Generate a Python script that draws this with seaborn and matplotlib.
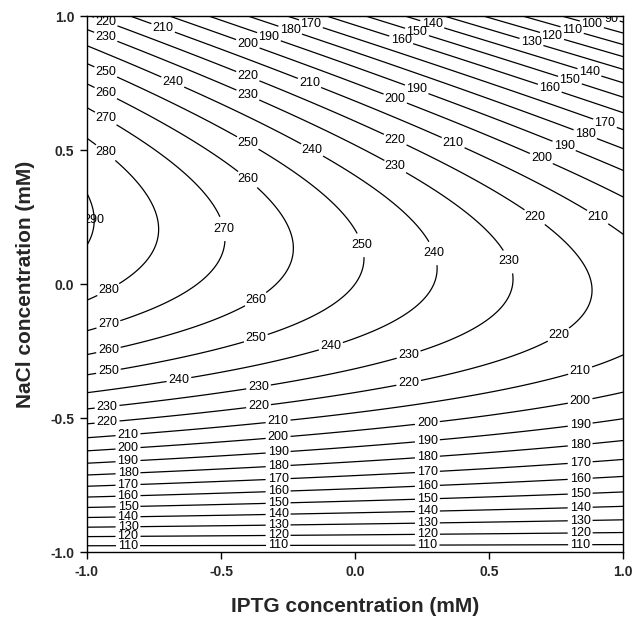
import numpy as np
import matplotlib
matplotlib.use("Agg")
import matplotlib.pyplot as plt
import seaborn as sns

# -------- response surface (coded units), coefficients --------
b0 = 250.0        # intercept
b_iptg = -34.0    # linear IPTG
b_nacl = 24.7     # linear NaCl
b_iptg2 = 0.0     # quadratic IPTG
b_nacl2 = -122.0  # quadratic NaCl
b_cross = -34.3   # IPTG x NaCl

levels = list(range(80, 300, 10))
ticks = [-1.0, -0.5, 0.0, 0.5, 1.0]
tick_labels = ["-1.0", "-0.5", "0.0", "0.5", "1.0"]

# short guide strokes (start, end) along which contour labels are put,
# roughly where the labels sit in the original figure
label_rays = [
    # lower half
    ((-0.847, -1.0), (-0.847, -0.54)),
    ((-0.925, -0.54), (-0.925, -0.42)),
    ((-0.92, -0.36), (-0.92, 0.05)),
    ((-0.657, -0.42), (-0.657, -0.30)),
    ((-0.287, -1.0), (-0.287, -0.50)),
    ((-0.36, -0.50), (-0.36, -0.34)),
    ((-0.37, -0.24), (-0.37, 0.00)),
    ((-0.09, -0.30), (-0.09, -0.10)),
    ((0.27, -1.0), (0.27, -0.45)),
    ((0.20, -0.45), (0.20, -0.20)),
    ((0.84, -1.0), (0.84, -0.30)),
    ((0.76, -0.30), (0.76, -0.10)),
    # around the ridge
    ((-0.60, 0.22), (-0.35, 0.19)),
    ((-0.10, 0.16), (0.70, 0.07)),
    ((0.60, 0.25), (0.95, 0.25)),
    # upper half
    ((-0.93, 0.40), (-0.93, 0.84)),
    ((-0.93, 0.90), (-0.93, 1.0)),
    ((-0.68, 0.70), (-0.68, 0.80)),
    ((-0.716, 0.92), (-0.716, 0.99)),
    ((-0.40, 0.38), (-0.40, 0.60)),
    ((-0.40, 0.68), (-0.40, 0.80)),
    ((-0.40, 0.86), (-0.40, 0.92)),
    ((-0.33, 0.92), (-0.12, 0.985)),
    ((-0.17, 0.70), (-0.17, 0.80)),
    ((-0.16, 0.42), (-0.16, 0.58)),
    ((0.15, 0.40), (0.15, 0.56)),
    ((0.15, 0.66), (0.15, 0.72)),
    ((0.23, 0.70), (0.23, 0.76)),
    ((0.366, 0.48), (0.366, 0.58)),
    ((0.13, 0.89), (0.34, 0.995)),
    ((0.68, 0.46), (0.96, 0.615)),
    ((0.70, 0.72), (0.90, 0.80)),
    ((0.63, 0.895), (0.99, 1.0)),
]


def surface(x, y):
    return (b0 + b_iptg * x + b_nacl * y + b_iptg2 * x**2
            + b_nacl2 * y**2 + b_cross * x * y)


iptg = np.linspace(-1, 1, 301)
nacl = np.linspace(-1, 1, 301)
X, Y = np.meshgrid(iptg, nacl)
Z = surface(X, Y)

# -------- plot --------
sns.set_theme(style="white")
plt.rcParams["font.family"] = ["Liberation Sans", "DejaVu Sans"]

fig = plt.figure(figsize=(6.43, 6.21), dpi=100)
ax = fig.add_axes([0.1353, 0.1111, 0.8337, 0.8631])

cs = ax.contour(X, Y, Z, levels=levels, colors="black", linewidths=0.9)

t = np.linspace(0, 1, 2000)
for lev, segs in zip(cs.levels, cs.allsegs):
    segs = [s for s in segs if len(s) > 2]
    if not segs:
        continue
    spots = []
    for (x0, y0), (x1, y1) in label_rays:
        rx = x0 + (x1 - x0) * t
        ry = y0 + (y1 - y0) * t
        d = surface(rx, ry) - lev
        for i in np.where(np.sign(d[:-1]) != np.sign(d[1:]))[0]:
            spots.append((rx[i], ry[i]))
    inline = True
    if not spots:
        # tiny closed loop at the peak: label it without cutting
        seg = max(segs, key=len)
        spots = [tuple(seg[len(seg) // 2])]
        inline = False
    for sp in spots:
        n = len(ax.texts)
        ax.clabel(cs, inline=inline, fontsize=9, fmt="%d",
                  inline_spacing=2, manual=[sp])
        for txt in ax.texts[n:]:
            txt.set_text("%d" % lev)

for txt in ax.texts:
    txt.set_rotation(0)
    txt.set_color("black")

ax.set_xlim(-1, 1)
ax.set_ylim(-1, 1)
ax.set_xticks(ticks)
ax.set_xticklabels(tick_labels, fontweight="bold", fontsize=10)
ax.set_yticks(ticks)
ax.set_yticklabels(tick_labels, fontweight="bold", fontsize=10)
ax.tick_params(axis="both", direction="out", length=5, width=1,
               color="black", pad=4, bottom=True, left=True)

for s in ax.spines.values():
    s.set_color("black")
    s.set_linewidth(1.0)

ax.set_xlabel("IPTG concentration (mM)", fontsize=15, fontweight="bold", labelpad=13)
ax.set_ylabel("NaCl concentration (mM)", fontsize=15, fontweight="bold", labelpad=11)

fig.savefig("out.png", dpi=100, facecolor="white")
